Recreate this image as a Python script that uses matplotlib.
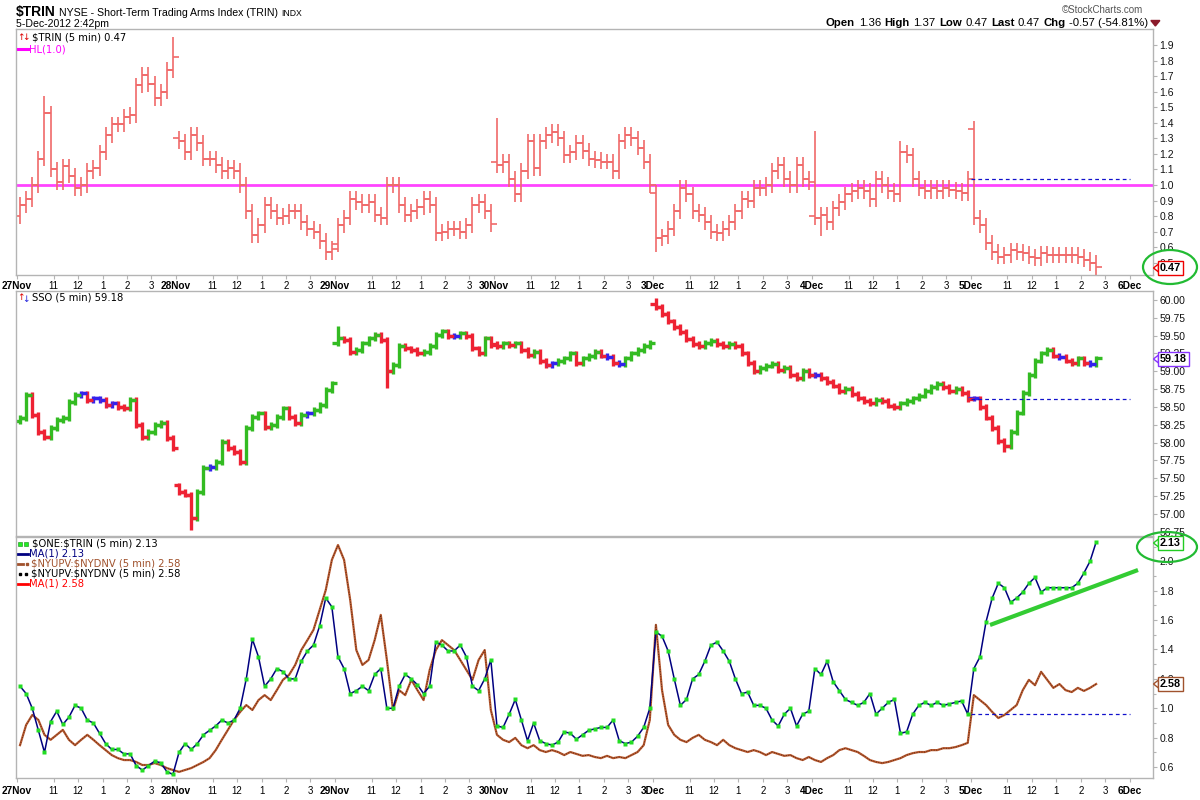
import matplotlib
matplotlib.use("Agg")
import matplotlib.pyplot as plt
import numpy as np
from matplotlib.patches import Ellipse, Polygon
from matplotlib.ticker import FixedLocator, MultipleLocator

plt.rcParams['font.family'] = ['Liberation Sans', 'DejaVu Sans']

# ---------------- data (15-minute bars, 26 per session) ----------------
day_labels = ["27Nov", "28Nov", "29Nov", "30Nov", "3Dec", "4Dec", "5Dec", "6Dec"]
hour_labels = ["11", "12", "1", "2", "3"]
hour_offsets = [6, 10, 14, 18, 22]
bars_per_day = 26

trin_day_open = [0.80, 1.30, 0.62, 1.15, 0.95, 0.80, 1.36]
trin_close = [
    0.87, 0.91, 1.00, 1.17, 1.46, 1.10, 1.02, 1.12, 1.06, 0.98, 1.00, 1.09, 1.11, 1.21, 1.32, 1.39, 1.39, 1.44, 1.45, 1.64, 1.71, 1.65, 1.56, 1.60, 1.74, 1.82,
    1.28, 1.21, 1.32, 1.27, 1.17, 1.17, 1.13, 1.09, 1.11, 1.09, 1.00, 0.83, 0.68, 0.74, 0.87, 0.83, 0.79, 0.80, 0.83, 0.83, 0.76, 0.72, 0.70, 0.64, 0.57, 0.59,
    0.74, 0.79, 0.91, 0.89, 0.87, 0.89, 0.81, 0.79, 1.00, 1.00, 0.87, 0.81, 0.83, 0.86, 0.91, 0.87, 0.69, 0.70, 0.72, 0.72, 0.70, 0.74, 0.87, 0.89, 0.83, 0.75,
    1.13, 1.15, 1.04, 0.94, 1.09, 1.28, 1.11, 1.28, 1.32, 1.34, 1.30, 1.19, 1.21, 1.27, 1.22, 1.17, 1.16, 1.15, 1.15, 1.09, 1.28, 1.32, 1.30, 1.24, 1.15, 1.00,
    0.66, 0.67, 0.72, 0.83, 0.98, 0.94, 0.83, 0.81, 0.76, 0.70, 0.69, 0.72, 0.76, 0.83, 0.91, 0.90, 0.98, 0.98, 1.00, 1.09, 1.13, 1.04, 1.00, 1.13, 1.04, 1.02,
    0.79, 0.81, 0.76, 0.85, 0.89, 0.94, 0.96, 0.98, 0.96, 0.91, 1.04, 1.00, 0.96, 0.94, 1.21, 1.19, 1.04, 0.98, 0.96, 0.98, 0.96, 0.98, 0.97, 0.96, 0.95, 1.04,
    0.79, 0.74, 0.63, 0.57, 0.54, 0.55, 0.58, 0.57, 0.56, 0.54, 0.53, 0.56, 0.55, 0.55, 0.55, 0.55, 0.55, 0.54, 0.52, 0.50, 0.47,
]
trin_high_extra = {4: 1.57, 25: 1.95, 78: 1.43, 130: 1.35, 144: 1.28, 156: 1.37}
trin_low_extra = {104: 0.57, 131: 0.67}
trin_prev_close = 1.04
trin_hl = 1.0

sso_day_open = [58.30, 57.40, 59.40, 59.38, 59.95, 58.95, 58.62]
sso_close = [
    58.34, 58.67, 58.39, 58.15, 58.08, 58.20, 58.32, 58.34, 58.57, 58.67, 58.69, 58.60, 58.62, 58.60, 58.53, 58.55, 58.50, 58.48, 58.60, 58.25, 58.08, 58.15, 58.25, 58.27, 58.06, 57.92,
    57.31, 57.27, 56.94, 57.31, 57.64, 57.66, 57.73, 58.01, 57.92, 57.87, 57.73, 58.20, 58.36, 58.41, 58.22, 58.25, 58.36, 58.48, 58.36, 58.27, 58.39, 58.41, 58.46, 58.53, 58.74, 58.83,
    59.46, 59.44, 59.27, 59.30, 59.39, 59.46, 59.51, 59.44, 59.00, 59.09, 59.35, 59.32, 59.30, 59.25, 59.27, 59.35, 59.51, 59.56, 59.49, 59.49, 59.53, 59.49, 59.32, 59.25, 59.46, 59.37,
    59.35, 59.39, 59.37, 59.39, 59.30, 59.23, 59.27, 59.14, 59.09, 59.11, 59.14, 59.18, 59.25, 59.11, 59.18, 59.21, 59.27, 59.22, 59.20, 59.12, 59.10, 59.18, 59.25, 59.30, 59.35, 59.40,
    59.90, 59.80, 59.70, 59.62, 59.55, 59.45, 59.38, 59.35, 59.40, 59.42, 59.38, 59.35, 59.38, 59.35, 59.25, 59.12, 59.00, 59.05, 59.08, 59.10, 59.02, 59.05, 58.95, 58.90, 59.00, 58.95,
    58.95, 58.90, 58.85, 58.80, 58.72, 58.75, 58.68, 58.62, 58.58, 58.55, 58.60, 58.58, 58.52, 58.50, 58.55, 58.58, 58.62, 58.66, 58.72, 58.78, 58.82, 58.78, 58.72, 58.75, 58.70, 58.61,
    58.62, 58.50, 58.35, 58.20, 58.02, 57.95, 58.15, 58.42, 58.70, 58.95, 59.15, 59.25, 59.30, 59.22, 59.20, 59.15, 59.12, 59.18, 59.12, 59.10, 59.18,
]
sso_high_extra = {104: 60.03, 52: 59.63}
sso_low_extra = {28: 56.77, 60: 58.76, 161: 57.87}
sso_prev_close = 58.61

one_trin = [
    1.15, 1.10, 1.00, 0.85, 0.70, 0.91, 0.98, 0.89, 0.94, 1.02, 1.00, 0.92, 0.90, 0.83, 0.76, 0.72, 0.72, 0.69, 0.69, 0.61, 0.58, 0.61, 0.64, 0.63, 0.57, 0.55,
    0.70, 0.76, 0.72, 0.76, 0.82, 0.85, 0.88, 0.92, 0.90, 0.92, 1.00, 1.20, 1.47, 1.35, 1.15, 1.20, 1.27, 1.25, 1.20, 1.20, 1.32, 1.39, 1.43, 1.56, 1.75, 1.69,
    1.35, 1.27, 1.10, 1.12, 1.15, 1.12, 1.23, 1.27, 1.00, 1.00, 1.15, 1.23, 1.20, 1.16, 1.10, 1.15, 1.45, 1.43, 1.39, 1.39, 1.43, 1.35, 1.15, 1.12, 1.20, 1.33,
    0.88, 0.87, 0.96, 1.06, 0.92, 0.78, 0.90, 0.78, 0.76, 0.75, 0.77, 0.84, 0.83, 0.79, 0.82, 0.85, 0.86, 0.87, 0.87, 0.92, 0.78, 0.76, 0.77, 0.81, 0.87, 1.00,
    1.52, 1.49, 1.39, 1.20, 1.02, 1.06, 1.20, 1.23, 1.32, 1.43, 1.45, 1.39, 1.32, 1.20, 1.10, 1.11, 1.02, 1.02, 1.00, 0.92, 0.88, 0.96, 1.00, 0.88, 0.96, 0.98,
    1.27, 1.23, 1.32, 1.18, 1.12, 1.06, 1.04, 1.02, 1.04, 1.10, 0.96, 1.00, 1.04, 1.06, 0.83, 0.84, 0.96, 1.02, 1.04, 1.02, 1.04, 1.02, 1.03, 1.04, 1.05, 0.96,
    1.27, 1.35, 1.59, 1.75, 1.85, 1.82, 1.72, 1.75, 1.79, 1.85, 1.89, 1.79, 1.82, 1.82, 1.82, 1.82, 1.82, 1.85, 1.92, 2.00, 2.13,
]
one_trin_prev_close = 0.96

ny_updn = [
    0.98, 1.51, 1.77, 1.64, 1.25, 1.12, 1.25, 1.38, 1.12, 0.98, 1.12, 1.25, 1.12, 0.98, 0.85, 0.72, 0.64, 0.59, 0.59, 0.54, 0.46, 0.46, 0.51, 0.46, 0.38, 0.33,
    0.28, 0.33, 0.38, 0.46, 0.54, 0.64, 0.85, 1.12, 1.38, 1.64, 1.85, 2.03, 1.90, 2.16, 2.29, 2.16, 2.42, 2.69, 2.82, 3.08, 3.47, 3.73, 4.00, 4.52, 5.04, 5.83,
    6.22, 5.83, 4.78, 3.47, 3.08, 3.21, 3.73, 4.39, 3.21, 1.90, 2.42, 2.29, 2.69, 2.42, 2.16, 2.95, 3.47, 3.73, 3.60, 3.47, 3.21, 2.95, 2.69, 3.21, 3.47, 1.90,
    1.25, 1.12, 1.06, 1.17, 0.98, 0.90, 0.98, 0.85, 0.80, 0.85, 0.80, 0.72, 0.80, 0.75, 0.70, 0.72, 0.67, 0.64, 0.70, 0.64, 0.67, 0.64, 0.72, 0.80, 0.98, 1.64,
    4.13, 2.42, 1.51, 1.25, 1.12, 1.06, 1.17, 1.25, 1.12, 1.06, 0.98, 1.12, 0.98, 0.90, 0.85, 0.80, 0.85, 0.80, 0.72, 0.80, 0.75, 0.70, 0.72, 0.64, 0.59, 0.67,
    0.59, 0.54, 0.64, 0.72, 0.85, 0.90, 0.85, 0.80, 0.70, 0.59, 0.54, 0.51, 0.54, 0.59, 0.64, 0.72, 0.77, 0.80, 0.80, 0.85, 0.85, 0.90, 0.90, 0.93, 0.98, 1.04,
    2.29, 2.16, 2.03, 1.85, 1.69, 1.77, 1.90, 2.03, 2.42, 2.69, 2.55, 2.90, 2.69, 2.48, 2.58, 2.42, 2.37, 2.48, 2.40, 2.48, 2.58,
]

# ---------------- helpers ----------------
def build_ohlc(closes, day_open, pad, hi_extra, lo_extra):
    n = len(closes)
    opens, highs, lows = [], [], []
    for i in range(n):
        o = day_open[i // bars_per_day] if i % bars_per_day == 0 else closes[i - 1]
        c = closes[i]
        h = max(o, c) + pad
        l = min(o, c) - pad
        if i in hi_extra:
            h = max(h, hi_extra[i])
        if i in lo_extra:
            l = min(l, lo_extra[i])
        opens.append(o); highs.append(h); lows.append(l)
    return np.array(opens), np.array(highs), np.array(lows), np.array(closes)


def draw_ohlc(ax, o, h, l, c, colors, lw, tick):
    x = np.arange(len(c)) + 0.5
    ax.vlines(x, l, h, colors=colors, lw=lw)
    ax.hlines(o, x - tick, x, colors=colors, lw=lw)
    ax.hlines(c, x, x + tick, colors=colors, lw=lw)


W, H = 1200, 800
fig = plt.figure(figsize=(12, 8), dpi=100)
fig.patch.set_facecolor('white')


def rect(top, bottom, left=16, right=1153):
    return [left / W, 1 - bottom / H, (right - left) / W, (bottom - top) / H]


ax1 = fig.add_axes(rect(29, 275))
ax2 = fig.add_axes(rect(291, 536))
ax3 = fig.add_axes(rect(537, 778))

# secondary scale for the volume ratio (bottom panel overlay)
ax3b = ax3.twinx()
ax3b.set_ylim(0.12, 6.43)
ax3b.set_yticks([])
for s in ax3b.spines.values():
    s.set_visible(False)

XMIN, XMAX = -0.16, 185.8
frame_col = '#b4b4b4'

day_ticks = [bars_per_day * d for d in range(len(day_labels))]
tick_pos, tick_lab, tick_bold = [], [], []
for d, lab in enumerate(day_labels):
    tick_pos.append(day_ticks[d]); tick_lab.append(lab); tick_bold.append(True)
    if d < len(day_labels) - 1:
        for off, hl in zip(hour_offsets, hour_labels):
            tick_pos.append(day_ticks[d] + off); tick_lab.append(hl); tick_bold.append(False)

for ax in (ax1, ax2, ax3):
    ax.set_xlim(XMIN, XMAX)
    for s in ax.spines.values():
        s.set_color(frame_col)
        s.set_linewidth(1.0)
    ax.yaxis.tick_right()
    ax.tick_params(axis='y', which='both', direction='out', length=3, width=0.8,
                   colors=frame_col, labelcolor='#111111', labelsize=7.5, pad=1.5,
                   left=False, labelleft=False, right=True, labelright=True)
    ax.tick_params(axis='y', which='minor', length=2)
    ax.set_xticks(tick_pos)
    ax.tick_params(axis='x', direction='out', length=3, width=0.8, colors=frame_col,
                   labelcolor='black', labelsize=7, pad=1)
ax3b.set_xlim(XMIN, XMAX)

for ax in (ax1, ax3):
    ax.set_xticklabels(tick_lab)
    for t, b in zip(ax.get_xticklabels(), tick_bold):
        if b:
            t.set_fontweight('bold')
            t.set_fontsize(7.3)
ax2.set_xticklabels([])
ax2.tick_params(axis='x', length=0)
ax3.tick_params(axis='x', pad=2.5)

# ---------------- top panel: TRIN ----------------
o, h, l, c = build_ohlc(trin_close, trin_day_open, 0.05, trin_high_extra, trin_low_extra)
draw_ohlc(ax1, o, h, l, c, '#f06a6a', 1.2, 1.0)
ax1.axhline(trin_hl, color='#ff44ff', lw=2.0, zorder=1)
n5 = bars_per_day * 6
ax1.hlines(trin_prev_close, n5, bars_per_day * 7, colors='#1010cc', lw=0.9, linestyles=(0, (3, 2.5)))
ax1.set_ylim(0.4216, 2.003)
ax1.yaxis.set_major_locator(FixedLocator(np.round(np.arange(0.5, 1.95, 0.1), 1)))
ax1.set_yticklabels([f"{v:.1f}" for v in np.arange(0.5, 1.95, 0.1)])

# ---------------- middle panel: SSO ----------------
o, h, l, c = build_ohlc(sso_close, sso_day_open, 0.04, sso_high_extra, sso_low_extra)
cols = []
for oo, cc in zip(o, c):
    if cc - oo > 0.02:
        cols.append('#33bb22')
    elif cc - oo < -0.02:
        cols.append('#ee2233')
    else:
        cols.append('#3322ee')
draw_ohlc(ax2, o, h, l, c, cols, 2.4, 0.9)
ax2.hlines(sso_prev_close, n5, bars_per_day * 7, colors='#1010cc', lw=0.9, linestyles=(0, (3, 2.5)))
ax2.set_ylim(56.69, 60.126)
sso_ticks = np.arange(56.75, 60.01, 0.25)
ax2.yaxis.set_major_locator(FixedLocator(sso_ticks))
ax2.set_yticklabels([f"{v:.2f}" for v in sso_ticks])

# ---------------- bottom panel ----------------
xb = np.arange(len(ny_updn)) + 0.5
ax3b.plot(xb, ny_updn, color='#b8582e', lw=1.6, zorder=2)
ax3b.plot(xb, ny_updn, color='#402010', lw=0.6, ls=(0, (1, 2)), zorder=3)

ax3.set_zorder(ax3b.get_zorder() + 1)
ax3.patch.set_visible(False)
xo = np.arange(len(one_trin)) + 0.5
ax3.plot(xo, one_trin, color='#000080', lw=1.1, zorder=3)
ax3.plot(xo, one_trin, ls='none', marker='s', ms=2.3, mfc='#22dd22', mec='none', zorder=4)
ax3.hlines(one_trin_prev_close, n5, bars_per_day * 7, colors='#1010cc', lw=0.9, linestyles=(0, (3, 2.5)))
ax3.set_ylim(0.526, 2.165)
ax3.yaxis.set_major_locator(FixedLocator(np.round(np.arange(0.6, 2.01, 0.2), 1)))
ax3.set_yticklabels([f"{v:.1f}" for v in np.arange(0.6, 2.01, 0.2)])
ax3.yaxis.set_minor_locator(MultipleLocator(0.1))
ax3.yaxis.set_label_position('right')

# ---------------- overlay (pixel coordinates) ----------------
ov = fig.add_axes([0, 0, 1, 1], zorder=20)
ov.set_xlim(0, W)
ov.set_ylim(H, 0)
ov.axis('off')
ov.patch.set_visible(False)
renderer = fig.canvas.get_renderer()


def seq_text(x, y, pieces, size):
    for t, b, col in pieces:
        tx = ov.text(x, y, t, fontsize=size, fontweight='bold' if b else 'normal',
                     color=col, va='center', ha='left')
        bb = tx.get_window_extent(renderer=renderer)
        x += bb.width + 3.5
    return x

# header left
x_end = seq_text(16, 12, [(r"\$TRIN", True, 'black')], 10)
x_end = seq_text(x_end, 12.5, [("NYSE - Short-Term Trading Arms Index (TRIN)", False, 'black')], 7.6)
ov.text(x_end, 13, "INDX", fontsize=6.2, va='center', ha='left')
ov.text(16, 24, "5-Dec-2012 2:42pm", fontsize=7.6, va='center', ha='left')

# header right
ov.text(1143, 10, "\u00a9StockCharts.com", fontsize=7, color='#555555', va='center', ha='right')
x_end = seq_text(826, 23, [("Open", True, 'black'), ("1.36", False, 'black'), ("High", True, 'black'),
                           ("1.37", False, 'black'), ("Low", True, 'black'), ("0.47", False, 'black'),
                           ("Last", True, 'black'), ("0.47", False, 'black'), ("Chg", True, 'black'),
                           ("-0.57 (-54.81%)", False, 'black')], 8.2)
tx0 = x_end - 1
ov.add_patch(Polygon([[tx0, 20.5], [tx0 + 9, 20.5], [tx0 + 4.5, 26]], closed=True, color='#8b1a2a'))

LEG = dict(fontsize=7.2, va='center', ha='left', family=['DejaVu Sans'])
# panel legends
ov.text(17, 37, "\u2191", fontsize=6.5, color='#dd0000', va='center', ha='left', family=['DejaVu Sans'])
ov.text(22.5, 38, "\u2193", fontsize=6.5, color='#dd0000', va='center', ha='left', family=['DejaVu Sans'])
ov.text(32, 37, r"\$TRIN (5 min) 0.47", **LEG)
ov.plot([18, 28], [49, 49], color='#ff00ff', lw=2.2)
ov.text(29, 49, "HL(1.0)", color='#ff00ff', **LEG)

ov.text(17, 298, "\u2191", fontsize=6.5, color='#dd0000', va='center', ha='left', family=['DejaVu Sans'])
ov.text(22.5, 299, "\u2193", fontsize=6.5, color='#2222dd', va='center', ha='left', family=['DejaVu Sans'])
ov.text(32, 298, "SSO (5 min) 59.18", **LEG)

ov.plot([19.5, 25.5], [544, 544], ls='none', marker='s', ms=2.5, mfc='#22ee22', mec='#118811', mew=0.4)
ov.text(32, 544, r"\$ONE:\$TRIN (5 min) 2.13", **LEG)
ov.plot([18, 28], [554, 554], color='#000080', lw=2)
ov.text(29, 554, "MA(1) 2.13", color='#000080', **LEG)
ov.plot([18, 23], [564, 564], color='#a0522d', lw=2)
ov.plot([26.5], [564], ls='none', marker='s', ms=2, color='#a0522d')
ov.text(31, 564, r"\$NYUPV:\$NYDNV (5 min) 2.58", color='#a0522d', **LEG)
ov.plot([19.5, 25.5], [574, 574], ls='none', marker='s', ms=2, color='black')
ov.text(31, 574, r"\$NYUPV:\$NYDNV (5 min) 2.58", **LEG)
ov.plot([18, 28], [584, 584], color='#ff0000', lw=2)
ov.text(29, 584, "MA(1) 2.58", color='#ff0000', **LEG)

# value tags on the right axes
def tag(y, text, ec):
    ov.text(1160, y, text, fontsize=7.8, fontweight='bold', va='center', ha='left',
            bbox=dict(boxstyle='square,pad=0.15', fc='white', ec=ec, lw=1.0))
    ov.add_patch(Polygon([[1153.5, y], [1158.5, y - 4], [1158.5, y + 4]], closed=True,
                         fc='white', ec=ec, lw=1.0))

tag(268, "0.47", '#ee0000')
tag(359, "59.18", '#8833ff')
tag(543, "2.13", '#22cc22')
tag(684, "2.58", '#a0522d')

# hand-drawn annotations
ov.add_patch(Ellipse((1170, 267), 54, 34, fill=False, ec='#22bb33', lw=1.6))
ov.add_patch(Ellipse((1167, 547), 60, 30, fill=False, ec='#22bb33', lw=1.6))
ov.plot([990, 1138], [625, 570], color='#33cc33', lw=3.0, solid_capstyle='butt')

fig.savefig("out.png", dpi=100)
